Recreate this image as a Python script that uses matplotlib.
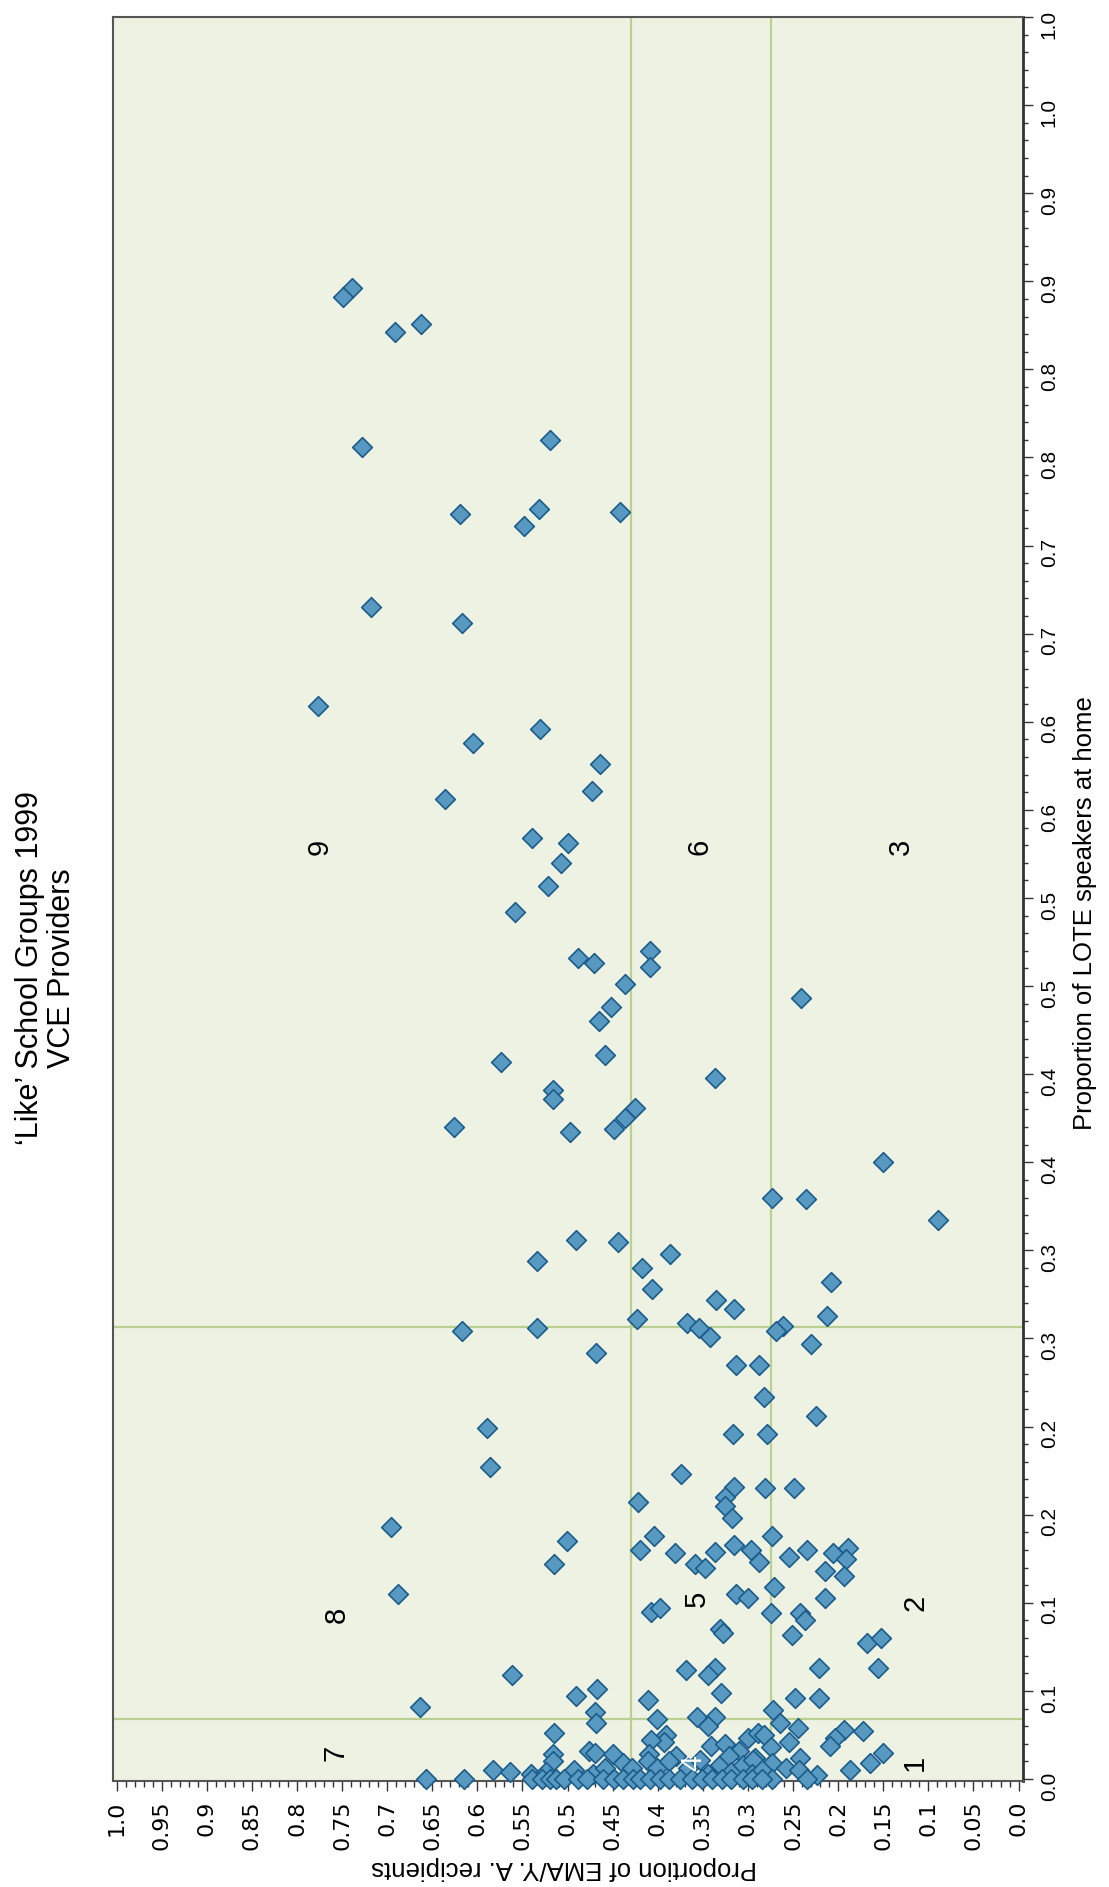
import numpy as np
import matplotlib
matplotlib.use("Agg")
import matplotlib.pyplot as plt
from matplotlib.ticker import MultipleLocator

# proportion of EMA/Y.A. recipients (horizontal, reversed) vs proportion of LOTE speakers (vertical)
ema = [
    0.739, 0.749, 0.663, 0.691, 0.728, 0.519, 0.619, 0.532, 0.548, 0.442, 0.718, 0.617,
    0.777, 0.531, 0.605, 0.464, 0.473, 0.636, 0.540, 0.499, 0.507, 0.522, 0.558, 0.488,
    0.471, 0.409, 0.409, 0.436, 0.452, 0.465, 0.241, 0.574, 0.458, 0.337, 0.516, 0.516,
    0.425, 0.436, 0.449, 0.626, 0.497, 0.150, 0.273, 0.236,
    0.089, 0.491, 0.444, 0.534, 0.386, 0.418, 0.406, 0.208, 0.335, 0.316, 0.212, 0.423,
    0.368, 0.354, 0.342, 0.261, 0.269, 0.617, 0.534, 0.230, 0.469, 0.313, 0.288, 0.282,
    0.225, 0.589, 0.317, 0.279,
    0.586, 0.374, 0.422, 0.316, 0.325, 0.325, 0.318, 0.281, 0.249,
    0.501, 0.515, 0.404, 0.420, 0.381, 0.337, 0.316, 0.297, 0.288, 0.359, 0.348, 0.273,
    0.255, 0.234, 0.206, 0.189, 0.191, 0.215, 0.193,
    0.271, 0.313, 0.300, 0.215, 0.407, 0.398, 0.275, 0.242, 0.237, 0.331, 0.328, 0.251,
    0.168, 0.152, 0.156, 0.221, 0.369, 0.336, 0.344, 0.562,
    0.330, 0.248, 0.221, 0.491, 0.467, 0.411, 0.664, 0.470, 0.469, 0.401, 0.356, 0.337,
    0.344, 0.272, 0.265, 0.245, 0.515, 0.194, 0.172, 0.203, 0.209, 0.254, 0.150, 0.165, 0.187,
    0.391, 0.393, 0.408, 0.380, 0.341, 0.326, 0.310, 0.300, 0.289, 0.282, 0.275, 0.292,
    0.273, 0.258, 0.242, 0.243, 0.224, 0.234,
    0.516, 0.516, 0.476, 0.470, 0.450, 0.439, 0.429, 0.410, 0.411, 0.401, 0.388, 0.366,
    0.353, 0.344, 0.331, 0.321, 0.319, 0.306, 0.294, 0.296, 0.284, 0.273,
    0.583, 0.564, 0.541, 0.524, 0.493, 0.472, 0.459, 0.657, 0.615,
    0.539, 0.528, 0.519, 0.513, 0.504, 0.489, 0.478, 0.461, 0.448, 0.439, 0.428, 0.420,
    0.409, 0.398, 0.388, 0.375, 0.362, 0.351, 0.340, 0.329, 0.319, 0.306, 0.295, 0.284,
    0.696, 0.688,
]
lote = [
    0.846, 0.841, 0.826, 0.821, 0.756, 0.760, 0.718, 0.721, 0.711, 0.719, 0.665, 0.656,
    0.609, 0.596, 0.588, 0.576, 0.561, 0.556, 0.534, 0.531, 0.520, 0.507, 0.492, 0.466,
    0.463, 0.470, 0.461, 0.451, 0.438, 0.430, 0.443, 0.407, 0.411, 0.398, 0.391, 0.386,
    0.381, 0.375, 0.369, 0.370, 0.367, 0.350, 0.330, 0.329,
    0.317, 0.306, 0.305, 0.294, 0.298, 0.290, 0.278, 0.282, 0.272, 0.267, 0.263, 0.261,
    0.259, 0.256, 0.251, 0.257, 0.254, 0.254, 0.256, 0.247, 0.242, 0.235, 0.235, 0.217,
    0.206, 0.199, 0.196, 0.196,
    0.177, 0.173, 0.157, 0.166, 0.160, 0.155, 0.148, 0.165, 0.165,
    0.135, 0.122, 0.138, 0.130, 0.128, 0.129, 0.133, 0.130, 0.123, 0.122, 0.120, 0.138,
    0.126, 0.130, 0.128, 0.131, 0.125, 0.118, 0.115,
    0.109, 0.105, 0.103, 0.103, 0.095, 0.097, 0.094, 0.094, 0.090, 0.085, 0.083, 0.082,
    0.077, 0.080, 0.063, 0.063, 0.062, 0.063, 0.059, 0.059,
    0.049, 0.046, 0.046, 0.047, 0.051, 0.045, 0.041, 0.038, 0.032, 0.034, 0.035, 0.035,
    0.030, 0.039, 0.032, 0.029, 0.026, 0.028, 0.027, 0.023, 0.019, 0.021, 0.015, 0.009, 0.005,
    0.025, 0.021, 0.022, 0.013, 0.019, 0.020, 0.016, 0.023, 0.026, 0.025, 0.018, 0.012,
    0.009, 0.006, 0.012, 0.005, 0.002, 0.000,
    0.014, 0.010, 0.016, 0.015, 0.014, 0.009, 0.006, 0.014, 0.010, 0.006, 0.010, 0.006,
    0.011, 0.003, 0.008, 0.013, 0.004, 0.008, 0.011, 0.003, 0.005, 0.000,
    0.005, 0.004, 0.003, 0.004, 0.005, 0.003, 0.006, 0.000, 0.000,
    0.000, 0.000, 0.000, 0.000, 0.000, 0.000, 0.000, 0.000, 0.000, 0.000, 0.000, 0.000,
    0.000, 0.000, 0.000, 0.000, 0.000, 0.000, 0.000, 0.000, 0.000, 0.000, 0.000, 0.000,
    0.143, 0.105,
]

# quadrant cut-offs
ema_cuts = [0.430, 0.274]
lote_cuts = [0.2565, 0.034]

# group numbers and where they sit (ema, lote)
group_names = ["1", "2", "3", "4", "5", "6", "7", "8", "9"]
group_ema = [0.115, 0.114, 0.130, 0.360, 0.357, 0.354, 0.757, 0.756, 0.775]
group_lote = [0.009, 0.100, 0.529, 0.009, 0.102, 0.529, 0.015, 0.093, 0.529]

ema_ticks = np.arange(0, 1.0001, 0.05)
ema_labels = ["0.0", "0.05", "0.1", "0.15", "0.2", "0.25", "0.3", "0.35", "0.4", "0.45",
              "0.5", "0.55", "0.6", "0.65", "0.7", "0.75", "0.8", "0.85", "0.9", "0.95", "1.0"]
lote_ticks = np.arange(0, 1.0001, 0.05)
lote_labels = ["0.0", "0.1", "0.1", "0.2", "0.2", "0.3", "0.3", "0.4", "0.4", "0.5", "0.5",
               "0.6", "0.6", "0.7", "0.7", "0.8", "0.8", "0.9", "0.9", "1.0", "1.0"]

BG = "#EEF2E3"
GUIDE = "#B9D092"
FILL = "#5799C0"
EDGE = "#1B5C8A"
SANS = "Liberation Sans"

fig = plt.figure(figsize=(11.09, 18.87), dpi=100)
ax = fig.add_axes([0.1019, 0.0563, 0.8206, 0.9347])
ax.set_facecolor(BG)

for v in ema_cuts:
    ax.axvline(v, color=GUIDE, lw=1.6, zorder=1)
for v in lote_cuts:
    ax.axhline(v, color=GUIDE, lw=1.6, zorder=1)

ax.scatter(ema, lote, marker="D", s=100, facecolor=FILL, edgecolor=EDGE,
           linewidth=1.2, zorder=3, clip_on=False)

for name, gx, gy in zip(group_names, group_ema, group_lote):
    ax.text(gx, gy, name, rotation=90, ha="center", va="center", fontsize=21,
            family=SANS, color="white" if name == "4" else "black", zorder=4)

ax.set_xlim(1.004, -0.005)
ax.set_ylim(-0.001, 1.0)

ax.set_xticks(ema_ticks)
ax.set_xticklabels(ema_labels)
ax.xaxis.set_minor_locator(MultipleLocator(0.01))
ax.yaxis.tick_right()
ax.set_yticks(lote_ticks)
ax.set_yticklabels(lote_labels)
ax.yaxis.set_minor_locator(MultipleLocator(0.01))

ax.tick_params(axis="x", which="major", direction="out", length=7, width=1, color="#333333",
               labelrotation=90, labelsize=16, pad=7, labelfontfamily="DejaVu Sans")
ax.tick_params(axis="x", which="minor", direction="out", length=4, width=1, color="#333333")
ax.tick_params(axis="y", which="major", direction="out", length=7, width=1, color="#333333",
               labelrotation=90, labelsize=15, pad=5, labelfontfamily=SANS,
               left=False, right=True)
ax.tick_params(axis="y", which="minor", direction="out", length=3.5, width=1, color="#333333",
               left=False, right=True)

for side in ["left", "top", "bottom"]:
    ax.spines[side].set_color("#555555")
    ax.spines[side].set_linewidth(1.5)
ax.spines["right"].set_color("#333333")
ax.spines["right"].set_linewidth(2)

fig.text(0.0271, 0.487, "\u2018Like\u2019 School Groups 1999", rotation=90,
         ha="center", va="center", fontsize=22, family=SANS)
fig.text(0.0559, 0.487, "VCE Providers", rotation=90,
         ha="center", va="center", fontsize=22, family=SANS)
fig.text(0.9784, 0.5162, "Proportion of LOTE speakers at home", rotation=90,
         ha="center", va="center", fontsize=18.5, family=SANS)
fig.text(0.5086, 0.0101, "Proportion of EMA/Y. A. recipients", rotation=180,
         ha="center", va="center", fontsize=18.5, family=SANS)

fig.savefig("out.png", dpi=100, facecolor="white")
